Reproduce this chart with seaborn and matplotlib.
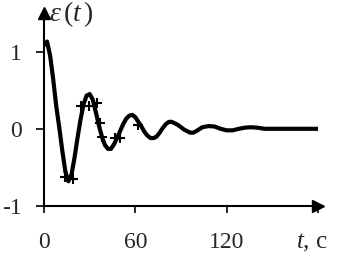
import matplotlib
matplotlib.use("Agg")
import matplotlib.pyplot as plt
import seaborn as sns
import pandas as pd

# curve values
t_vals = [0, 2, 4, 6, 8, 10, 12, 14, 16, 18, 20, 22, 24, 26, 28, 30, 32, 34, 36, 38,
          40, 42, 44, 46, 48, 50, 52, 54, 56, 58, 60, 62, 64, 66, 68, 70, 72, 74, 76, 78,
          80, 82, 84, 86, 88, 90, 92, 94, 96, 98, 100, 104, 108, 112, 116, 120, 124, 128,
          132, 136, 140, 145, 150, 160, 170, 180]
eps_vals = [1.08, 1.13, 0.95, 0.65, 0.30, 0.02, -0.28, -0.55, -0.68, -0.60, -0.38, -0.12,
            0.12, 0.32, 0.43, 0.45, 0.38, 0.22, 0.05, -0.10, -0.21, -0.26, -0.26, -0.20,
            -0.12, -0.03, 0.06, 0.13, 0.17, 0.18, 0.15, 0.09, 0.03, -0.04, -0.09, -0.12,
            -0.12, -0.10, -0.05, 0.01, 0.06, 0.09, 0.09, 0.07, 0.05, 0.02, -0.01, -0.03,
            -0.05, -0.05, -0.03, 0.02, 0.035, 0.03, 0.0, -0.02, -0.02, 0.0, 0.015, 0.02,
            0.015, 0.0, 0.0, 0.0, 0.0, 0.0]

# "+" marked points
mark_t = [14, 19, 24.5, 29.7, 34.6, 36.7, 37.8, 46.6, 49.8, 62]
mark_eps = [-0.63, -0.65, 0.30, 0.30, 0.33, 0.07, -0.10, -0.12, -0.12, 0.05]

x_ticks = [0, 60, 120, 180]
x_ticklabels = ["0", "60", "120", ""]
y_ticks = [-1, 0, 1]
y_ticklabels = ["-1", "0", "1"]

sns.set_theme(style="white")
plt.rcParams["font.family"] = ["Liberation Serif", "DejaVu Serif"]
plt.rcParams["mathtext.fontset"] = "custom"
plt.rcParams["mathtext.it"] = "Liberation Serif:italic"
plt.rcParams["mathtext.rm"] = "Liberation Serif"

fig = plt.figure(figsize=(3.42, 2.67), dpi=100)
ax = fig.add_axes([44 / 342, (267 - 206) / 267, 274 / 342, 193 / 267])

df = pd.DataFrame({"t": t_vals, "eps": eps_vals})
sns.lineplot(data=df, x="t", y="eps", ax=ax, color="black", linewidth=3.0)
dm = pd.DataFrame({"t": mark_t, "eps": mark_eps})
sns.scatterplot(data=dm, x="t", y="eps", ax=ax, marker="+", s=60, color="black",
                linewidth=1.5)

ax.set_xlim(0, 180)
ax.set_ylim(-1, 1.5)
ax.set_xticks(x_ticks)
ax.set_xticklabels(x_ticklabels)
ax.set_yticks(y_ticks)
ax.set_yticklabels(y_ticklabels)
ax.set_xlabel("")
ax.set_ylabel("")

for s in ["top", "right"]:
    ax.spines[s].set_visible(False)
for s in ["left", "bottom"]:
    ax.spines[s].set_color("black")
    ax.spines[s].set_linewidth(1.5)

ax.tick_params(axis="x", direction="out", length=5, width=1.2, color="black",
               labelsize=17, pad=14, bottom=True)
ax.tick_params(axis="y", direction="out", length=6, width=1.2, color="black",
               labelsize=17, pad=10, left=True)

# axis arrows
ax.plot([1], [0], marker=">", markersize=8, color="black", transform=ax.transAxes,
        clip_on=False)
ax.plot([0], [1], marker="^", markersize=8, color="black", transform=ax.transAxes,
        clip_on=False)

fig.text(49 / 342, 1 - 14 / 267, r"$\varepsilon\,\mathrm{(}t\,\mathrm{)}$", fontsize=20,
         ha="left", va="center")
fig.text(328 / 342, 1 - 243 / 267, r"$t$, с", fontsize=18, ha="right", va="center")

fig.savefig("out.png", dpi=100)
